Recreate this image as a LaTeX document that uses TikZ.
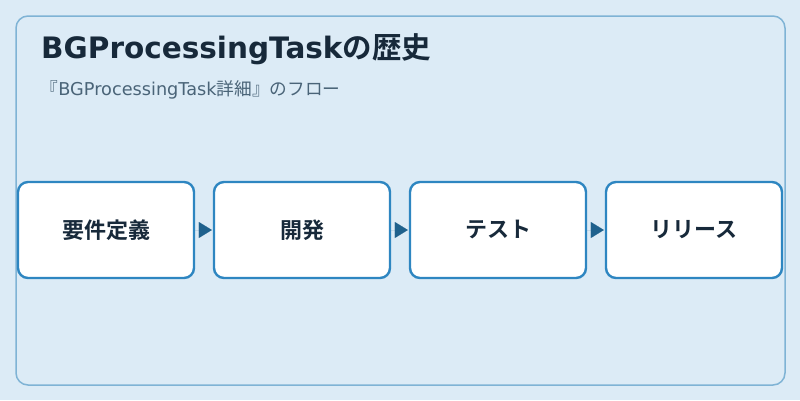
\documentclass[tikz,border=0pt]{standalone}
\usepackage{fontspec}
\setmainfont{Noto Sans CJK JP}
\newfontfamily\jpbold{Noto Sans CJK JP Bold}
\newfontfamily\latin{DejaVu Sans}
\usetikzlibrary{arrows.meta}
\definecolor{bgc}{HTML}{DCEBF6}
\definecolor{framec}{HTML}{7FB3D5}
\definecolor{boxc}{HTML}{2E86C1}
\definecolor{arrowc}{HTML}{1F618D}
\definecolor{titlec}{HTML}{17293A}
\definecolor{subc}{HTML}{4A6478}
\tikzset{
  stepbox/.style={draw=boxc, line width=2.4pt, fill=white, rounded corners=10pt,
    minimum width=176pt, minimum height=96pt, inner sep=0pt,
    font=\jpbold\fontsize{22}{24}\selectfont, text=titlec},
  flow/.style={draw=arrowc, line width=0.01pt, -{Triangle[length=13pt,width=16pt,fill=arrowc]}, shorten >=1pt}
}
\begin{document}
\begin{tikzpicture}[x=1pt,y=-1pt]
\useasboundingbox[fill=bgc] (0,0) rectangle (800,400);
\draw[framec, line width=1.5pt, rounded corners=12pt] (16,16) rectangle (785,385);
\node[anchor=base west, text=titlec, font=\fontsize{29.5}{32}\selectfont, inner sep=0pt] (title) at (41,58) {{\latin\bfseries BGProcessingTask}{\jpbold の歴史}};
\node[anchor=base west, text=subc, font=\fontsize{17.7}{20}\selectfont, inner sep=0pt] (sub) at (40.5,95.5) {『{\latin BGProcessingTask}詳細』のフロー};
\node[stepbox] (s1) at (106,230) {要件定義};
\node[stepbox] (s2) at (302,230) {開発};
\node[stepbox] (s3) at (498,230) {テスト};
\node[stepbox] (s4) at (694,230) {リリース};
\draw[flow] (s1.east) -- (s2.west);
\draw[flow] (s2.east) -- (s3.west);
\draw[flow] (s3.east) -- (s4.west);
\end{tikzpicture}
\end{document}
